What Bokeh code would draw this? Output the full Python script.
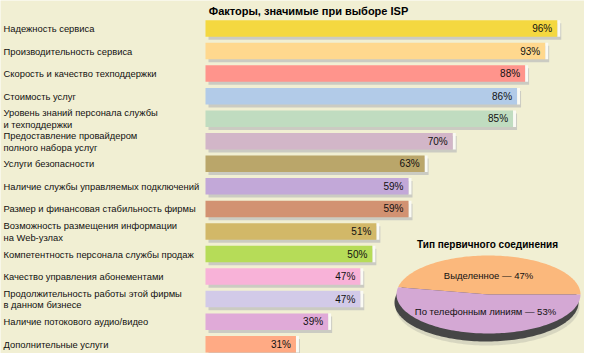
import numpy as np
from bokeh.plotting import figure
from bokeh.models import ColumnDataSource, Range1d
from bokeh.core.properties import value
from bokeh.embed import file_html
from bokeh.resources import INLINE

# ---------------- data ----------------
title = "Факторы, значимые при выборе ISP"
factors = [
    "Надежность сервиса",
    "Производительность сервиса",
    "Скорость и качество техподдержки",
    "Стоимость услуг",
    "Уровень знаний персонала службы\nи техподдержки",
    "Предоставление провайдером\nполного набора услуг",
    "Услуги безопасности",
    "Наличие службы управляемых подключений",
    "Размер и финансовая стабильность фирмы",
    "Возможность размещения информации\nна Web-узлах",
    "Компетентность персонала службы продаж",
    "Качество управления абонементами",
    "Продолжительность работы этой фирмы\nв данном бизнесе",
    "Наличие потокового аудио/видео",
    "Дополнительные услуги",
]
percents = [96, 93, 88, 86, 85, 70, 63, 59, 59, 51, 50, 47, 47, 39, 31]
bar_colors = ["#F4D840", "#FFD88E", "#FF948C", "#B2CBE8", "#C0DCC0", "#D2B6C8",
              "#BAA66A", "#C2A8D8", "#D29272", "#D2B868", "#B6DC58", "#F8B2D8",
              "#D2CAE8", "#E0AAD8", "#FFAA84"]

pie_title = "Тип первичного соединения"
pie_names = ["Выделенное", "По телефонным линиям"]
pie_shares = [47, 53]
pie_colors = ["#FBB87C", "#D4A8D4"]

AXIS_START = 8.5   # value where the bars of the original chart begin

# ---------------- style / layout ----------------
BG = "#F1EFD3"
W, H = 584, 353
FONT = value("Liberation Sans")
PX_PER_UNIT = 4.02
BAR_X0 = 205
ROW0, ROW_STEP = 28, 22.55

x0 = AXIS_START - BAR_X0 / PX_PER_UNIT
x1 = AXIS_START + (W - BAR_X0) / PX_PER_UNIT
y_bottom = (H - ROW0) / ROW_STEP
y_top = -ROW0 / ROW_STEP

p = figure(width=W, height=H, x_range=Range1d(x0, x1), y_range=Range1d(y_bottom, y_top),
           output_backend="svg", toolbar_location=None, min_border=0,
           x_axis_type=None, y_axis_type=None,
           background_fill_color=BG, border_fill_color=BG, outline_line_color=None)
p.grid.visible = False
p.extra_x_ranges = {"px": Range1d(0, W)}
p.extra_y_ranges = {"px": Range1d(H, 0)}

n = len(factors)
rows = list(range(n))
bh = 16.5 / ROW_STEP
sh_dy = 3 / ROW_STEP
src = ColumnDataSource(dict(
    y=rows, ys=[r + sh_dy for r in rows], v=percents,
    vs=[v + 4 / PX_PER_UNIT for v in percents],
    vw=[v + 3 / PX_PER_UNIT for v in percents],
    color=bar_colors, name=factors, lab=[f"{v}%" for v in percents]))

# shadows
p.hbar(y="ys", left=AXIS_START + 3 / PX_PER_UNIT, right="vs", height=bh, source=src,
       fill_color="#CBCBC2", line_color=None)
# white glint at the bar end
p.hbar(y="y", left="v", right="vw", height=bh, source=src,
       fill_color="#FAFAF4", line_color=None)
# bars
p.hbar(y="y", left=AXIS_START, right="v", height=bh, source=src,
       fill_color="color", line_color=None)
# values
p.text(x="v", y="y", text="lab", source=src, x_offset=-5, text_align="right",
       text_baseline="middle", text_font=FONT, text_font_size="10px", text_color="#111111")
# category labels
p.text(x=3, y="y", text="name", source=src, x_range_name="px", text_align="left",
       text_baseline="middle", text_font=FONT, text_font_size="9.4px",
       text_line_height=1.07, text_color="#111111")
# title
p.text(x=[308], y=[10], text=[title], x_range_name="px", y_range_name="px",
       text_align="center", text_baseline="middle", text_font=FONT,
       text_font_style="bold", text_font_size="11px", text_color="#000000")

# ---------------- pie ----------------
cx, cy, a, b = 488, 294, 92, 39
t = np.linspace(0, 2 * np.pi, 200)
p.patch(cx - 1 + a * np.cos(t), cy + 12 + b * np.sin(t), x_range_name="px", y_range_name="px",
        fill_color="#B8B8A8", fill_alpha=0.45, line_color=None)
p.patch(cx - 2 + a * np.cos(t), cy + 8 + b * np.sin(t), x_range_name="px", y_range_name="px",
        fill_color="#464646", line_color=None)

start = 0.0
xs, ys = [], []
for share in pie_shares:
    end = start + share / sum(pie_shares) * 2 * np.pi
    tt = np.linspace(start, end, 120)
    xs.append([cx] + list(cx + a * np.cos(tt)))
    ys.append([cy] + list(cy - b * np.sin(tt)))
    start = end
p.patches(xs, ys, fill_color=pie_colors, line_color=None,
          x_range_name="px", y_range_name="px")

p.text(x=[487], y=[244], text=[pie_title], x_range_name="px", y_range_name="px",
       text_align="center", text_baseline="middle", text_font=FONT,
       text_font_style="bold", text_font_size="10px", text_color="#000000")
p.text(x=[488, 485], y=[275, 311], text=[f"{nm} — {s}%" for nm, s in zip(pie_names, pie_shares)],
       x_range_name="px", y_range_name="px", text_align="center", text_baseline="middle",
       text_font=FONT, text_font_size="9.5px", text_color="#111111")

open("out.html", "w").write(file_html(p, INLINE))
